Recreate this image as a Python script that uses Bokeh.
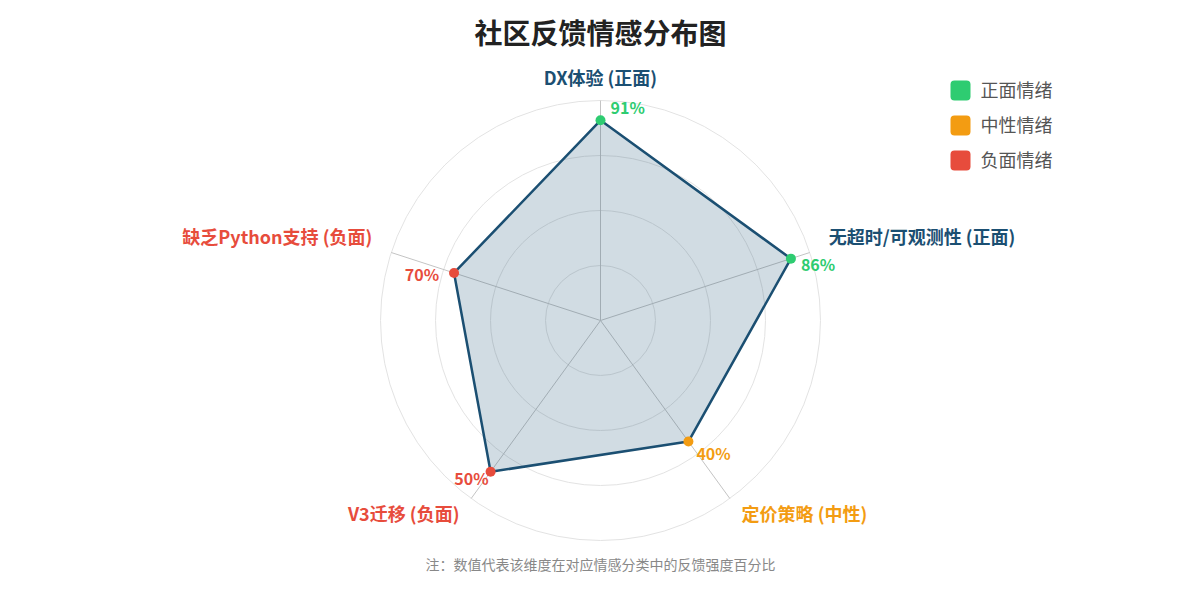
import math
from bokeh.plotting import figure
from bokeh.models import Range1d
from bokeh.core.properties import value
from bokeh.embed import file_html
from bokeh.resources import INLINE

# ---------------- data ----------------
categories = ["DX体验", "无超时/可观测性", "定价策略", "V3迁移", "缺乏Python支持"]
sentiments = ["正面", "正面", "中性", "负面", "负面"]
plot_values = [91, 91, 68, 85, 70]        # radius of each vertex
label_values = [91, 86, 40, 50, 70]       # printed percentages
legend_labels = ["正面情绪", "中性情绪", "负面情绪"]
grid_levels = [25, 50, 75, 100]
title_text = "社区反馈情感分布图"
note_text = "注：数值代表该维度在对应情感分类中的反馈强度百分比"

# ---------------- styles ----------------
FONT = value("Noto Sans CJK SC")
W, H = 1184, 584
sent_color = {"正面": "#2ecc71", "中性": "#f39c12", "负面": "#e74c3c"}
cat_label_color = {"正面": "#1b4f72", "中性": "#f39c12", "负面": "#e74c3c"}
LINE = "#1b4f72"
TXT_UP = 2  # small optical correction for text vertical centring

def sx(X):  # screen x -> data x
    return X

def sy(Y):  # screen y -> data y
    return H - Y

CX, CY = sx(600), sy(320)
R = 220.0
LABEL_R = 240.0
angles = [math.radians(90 - 72 * i) for i in range(len(categories))]

p = figure(width=W, height=H, output_backend="svg", toolbar_location=None,
           x_range=Range1d(0, W), y_range=Range1d(0, H), min_border=0,
           outline_line_color=None)
p.axis.visible = False
p.grid.visible = False
p.background_fill_color = "white"

# grid rings
p.circle(x=[CX] * len(grid_levels), y=[CY] * len(grid_levels),
         radius=[R * g / 100 for g in grid_levels],
         fill_color=None, line_color="#e3e3e3", line_width=1)
# spokes
p.segment(x0=[CX] * 5, y0=[CY] * 5,
          x1=[CX + R * math.cos(a) for a in angles],
          y1=[CY + R * math.sin(a) for a in angles],
          line_color="#c4c4c4", line_width=1)

# polygon
px = [CX + R * v / 100 * math.cos(a) for v, a in zip(plot_values, angles)]
py = [CY + R * v / 100 * math.sin(a) for v, a in zip(plot_values, angles)]
p.patch(px, py, fill_color=LINE, fill_alpha=0.2, line_color=LINE, line_width=2.5,
        line_join="round")
p.scatter(px, py, size=10, fill_color=[sent_color[s] for s in sentiments],
          line_color=None)

# category labels
cat_align = ["center", "left", "left", "right", "right"]
cat_dy = [2, 8, 0, 0, 8]
for c, s, a, al, dy in zip(categories, sentiments, angles, cat_align, cat_dy):
    p.text(x=[CX + LABEL_R * math.cos(a)],
           y=[CY + LABEL_R * math.sin(a) + dy + TXT_UP],
           text=[f"{c} ({s})"], text_font=FONT, text_font_style="bold",
           text_font_size="18px", text_color=cat_label_color[s],
           text_align=al, text_baseline="middle")

# value labels
val_off = [(10, 11, "left"), (10, -7, "left"), (8, -13, "left"),
           (-2, -8, "right"), (-15, -3, "right")]
for x, y, v, s, (ox, oy, al) in zip(px, py, label_values, sentiments, val_off):
    p.text(x=[x + ox], y=[y + oy + TXT_UP], text=[f"{v}%"], text_font=FONT,
           text_font_style="bold", text_font_size="16px",
           text_color=sent_color[s], text_align=al, text_baseline="middle")

# title
p.text(x=[sx(600)], y=[sy(31)], text=[title_text], text_font=FONT,
       text_font_style="bold", text_font_size="28px", text_color="#222222",
       text_align="center", text_baseline="middle")

# legend
for i, (lab, key) in enumerate(zip(legend_labels, ["正面", "中性", "负面"])):
    yc = sy(90 + 35 * i)
    p.quad(left=[sx(950)], right=[sx(970)], bottom=[yc - 10], top=[yc + 10],
           fill_color=sent_color[key], line_color=None, border_radius=4)
    p.text(x=[sx(980)], y=[yc + TXT_UP], text=[lab], text_font=FONT,
           text_font_size="18px", text_color="#555555",
           text_align="left", text_baseline="middle")

# note
p.text(x=[sx(600)], y=[sy(565) + TXT_UP], text=[note_text], text_font=FONT,
       text_font_size="14px", text_color="#888888",
       text_align="center", text_baseline="middle")

open("out.html", "w").write(file_html(p, INLINE))
